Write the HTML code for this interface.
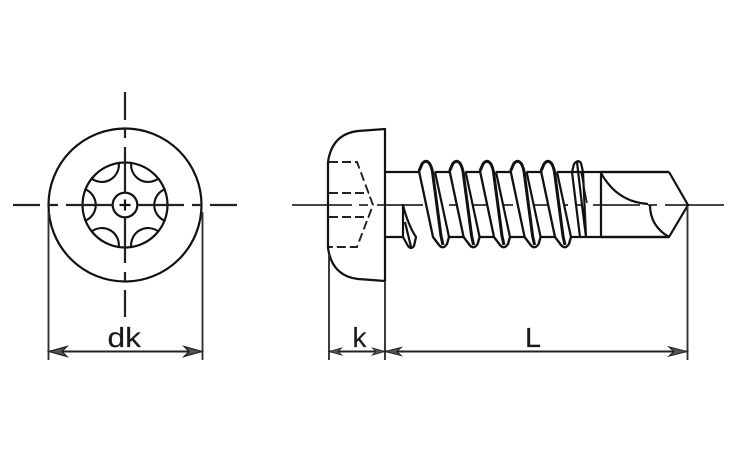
<!DOCTYPE html>
<html><head><meta charset="utf-8"><style>
html,body{margin:0;padding:0;background:#fff;width:750px;height:450px;overflow:hidden}
svg{display:block}
text{font-family:"Liberation Sans",sans-serif;fill:#1a1a1a;stroke:#1a1a1a;stroke-width:.15}
</style></head><body>
<svg width="750" height="450" viewBox="0 0 750 450" xmlns="http://www.w3.org/2000/svg">
<defs>
<g id="th">
<path d="M419,172 L432,237 L438,245 Q443,250 447,245 L449,237 L435,172 L431,165 Q425,158 421,164 Z" fill="#fff" stroke="none"/>
<path d="M435,172 L449,237" fill="none" stroke="#111" stroke-width="2.2"/>
<path d="M419,171 L433,237 L439,245 Q443,250 447,244 L449,237" fill="none" stroke="#111" stroke-width="2.3" stroke-linejoin="round"/>
<path d="M419,171 L422,164 Q425,160 428,162 Q431,164 432.5,172 L441,236 L443,245" fill="none" stroke="#111" stroke-width="3" stroke-linejoin="round"/>
</g>
<path id="ar" d="M0,0 L18,-5 L13,0 L18,5 Z" fill="#555" stroke="#222" stroke-width="1.2" stroke-linejoin="miter"/>
<path id="lobe" d="M84.5,189 A17,17 0 0 1 84.5,221" fill="none" stroke="#111" stroke-width="2.1"/>
</defs>

<!-- front view -->
<g fill="none" stroke="#111" stroke-width="2.2">
<circle cx="125" cy="205" r="76.5"/>
<circle cx="125" cy="205" r="42.5"/>
<circle cx="125" cy="205" r="12.3"/>
<path d="M119.5,205H130.5M125,199.5V210.5"/>
</g>
<g>
<use href="#lobe"/>
<use href="#lobe" transform="rotate(60 125 205)"/>
<use href="#lobe" transform="rotate(120 125 205)"/>
<use href="#lobe" transform="rotate(180 125 205)"/>
<use href="#lobe" transform="rotate(240 125 205)"/>
<use href="#lobe" transform="rotate(300 125 205)"/>
</g>
<path d="M13,205H40M48,205H58M66,205H113M137,205H184M192,205H202M210,205H237M125,92V120M125,128V138M125,147V193M125,217V263M125,272V282M125,290V317" fill="none" stroke="#222" stroke-width="2.2"/>

<!-- side view: shank -->
<path d="M385,172H419M385,237H403M433,172H669M449,237H669" fill="none" stroke="#111" stroke-width="2.2"/>
<path d="M292,205H352M359,205H368M377,205H423M431,205H440M449,205H513M522,205H568M575,205H581M593,205H640M648,205H657M665,205H724" fill="none" stroke="#444" stroke-width="1.9"/>

<!-- threads -->
<path d="M403,205 L403,237 L408,246 Q411,250 414,246 L416,237 Q408,225 403,205 Z" fill="#fff" stroke="#111" stroke-width="2.2" stroke-linejoin="round"/>
<path d="M405,222 L411,247" fill="none" stroke="#111" stroke-width="2.2"/>
<use href="#th"/>
<use href="#th" x="30.6"/>
<use href="#th" x="61"/>
<use href="#th" x="91.6"/>
<use href="#th" x="122"/>
<path d="M572,172 L574,164 Q578,159 581,163 L583,172 L586,237 M572,172 L580,237 M577,162 L582,205 L586,237" fill="none" stroke="#111" stroke-width="2.2" stroke-linejoin="round"/>
<path d="M581,172 L587,203" fill="none" stroke="#111" stroke-width="1.5"/>

<!-- drill tip -->
<path d="M601,172V237M669,172L688,205L669,237H601M601,172H669" fill="none" stroke="#111" stroke-width="2.2" stroke-linejoin="round"/>
<path d="M601,173 Q617,202 648,204 M650,205 Q650,226 669,237" fill="none" stroke="#111" stroke-width="2.2"/>

<!-- head -->
<path d="M385,129 L358,131 Q332,134 328,162 V248 Q332,276 358,279 L385,281 Z" fill="none" stroke="#111" stroke-width="2.2" stroke-linejoin="round"/>
<path d="M329,162H357L373,205L357,247H329" fill="none" stroke="#222" stroke-width="1.9" stroke-dasharray="9 4"/>
<path d="M329,193H369M329,217H369" fill="none" stroke="#222" stroke-width="1.9" stroke-dasharray="9 4"/>

<!-- dimensions -->
<path d="M48.5,212V360M202.5,212V360M329,254V360M385,281V360M687.5,206V360" fill="none" stroke="#333" stroke-width="1.9"/>
<path d="M49,351.5H202M329,351.5H385M385,351.5H687" fill="none" stroke="#222" stroke-width="2"/>
<use href="#ar" x="49" y="351.5"/>
<use href="#ar" transform="translate(202,351.5) scale(-1,1)"/>
<use href="#ar" transform="translate(329,351.5) scale(.7)"/>
<use href="#ar" transform="translate(385,351.5) scale(-.7,.7)"/>
<use href="#ar" transform="translate(385,351.5) scale(.9,.8)"/>
<use href="#ar" transform="translate(687,351.5) scale(-1,.9)"/>
<text x="107.5" y="347" font-size="27.5" textLength="33.5" lengthAdjust="spacingAndGlyphs">dk</text>
<text x="352.5" y="347" font-size="27.5" textLength="14" lengthAdjust="spacingAndGlyphs">k</text>
<text x="525" y="347" font-size="27.5" textLength="16" lengthAdjust="spacingAndGlyphs">L</text>
</svg>
</body></html>
